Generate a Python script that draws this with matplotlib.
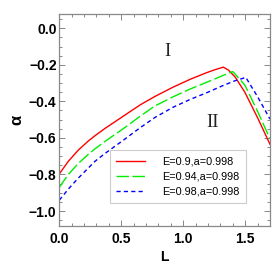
import numpy as np
import matplotlib.pyplot as plt
from matplotlib.ticker import MultipleLocator

TICK_SIZE = 10
LABEL_SIZE = 10
LEGEND_SIZE = 7.8
ROMAN_SIZE = 13.5

# ------------------------------------------------------------------------------------------------------------- #
# Data
# ------------------------------------------------------------------------------------------------------------- #
L_red = [0.0, 0.073, 0.153, 0.234, 0.288, 0.369, 0.53, 0.651, 0.772, 0.919, 1.054, 1.189, 1.26, 1.323,
         1.365, 1.42, 1.497, 1.6, 1.7]
alpha_red = [-0.797, -0.728, -0.667, -0.617, -0.588, -0.548, -0.475, -0.42, -0.373, -0.322, -0.28, -0.243,
             -0.226, -0.213, -0.229, -0.268, -0.35, -0.49, -0.635]

L_green = [0.0, 0.073, 0.153, 0.234, 0.288, 0.369, 0.53, 0.651, 0.772, 0.919, 1.054, 1.189, 1.323, 1.40,
           1.457, 1.497, 1.6, 1.7]
alpha_green = [-0.870, -0.800, -0.740, -0.690, -0.660, -0.619, -0.543, -0.482, -0.425, -0.375, -0.333, -0.296,
               -0.258, -0.237, -0.28, -0.311, -0.455, -0.605]

L_blue = [0.0, 0.073, 0.153, 0.234, 0.288, 0.369, 0.53, 0.651, 0.772, 0.919, 1.054, 1.189, 1.323, 1.415,
          1.505, 1.6, 1.7]
alpha_blue = [-0.941, -0.88, -0.82, -0.765, -0.728, -0.685, -0.606, -0.545, -0.488, -0.432, -0.39, -0.353,
              -0.313, -0.288, -0.269, -0.375, -0.497]

labels = ["E=0.9,a=0.998", "E=0.94,a=0.998", "E=0.98,a=0.998"]
x_ticks = [0.0, 0.5, 1.0, 1.5]
y_ticks = [0.0, -0.2, -0.4, -0.6, -0.8, -1.0]


# ------------------------------------------------------------------------------------------------------------- #
def plot_alpha_curves(fSavePath="out.png"):
    """
    Plots alpha over L for three energies, Mathematica frame style
    :param fSavePath: Path to save the plot
    """
    fig = plt.figure(figsize=(2.73, 2.73), dpi=100)
    ax = fig.add_axes([0.2172, 0.1722, 0.7718, 0.7766])
    frame_col = "#888888"
    for axis in ["top", "bottom", "left", "right"]:
        ax.spines[axis].set_linewidth(0.9)
        ax.spines[axis].set_color(frame_col)

    ax.plot(L_red, alpha_red, color="#ff0000", linewidth=1.0, label=labels[0])
    ax.plot(L_green, alpha_green, color="#00ee00", linewidth=1.0, linestyle=(0, (9, 2.5)), label=labels[1])
    ax.plot(L_blue, alpha_blue, color="#0000ff", linewidth=1.0, linestyle=(0, (3, 2.3)), label=labels[2])

    ax.set_xlim(0, 1.7)
    ax.set_ylim(-1.082, 0.078)
    ax.set_xticks(x_ticks)
    ax.set_yticks(y_ticks)
    ax.set_xticklabels(["%.1f" % v for v in x_ticks])
    ax.set_yticklabels([("%.1f" % v).replace("-", "\u2212") for v in y_ticks])
    ax.xaxis.set_minor_locator(MultipleLocator(0.1))
    ax.yaxis.set_minor_locator(MultipleLocator(0.05))
    ax.tick_params(which="both", direction="in", top=True, right=True, color=frame_col, width=0.7)
    ax.tick_params(which="major", length=4)
    ax.tick_params(which="minor", length=2)
    ax.tick_params(axis="x", pad=4)
    ax.tick_params(axis="y", pad=2)
    for lab in ax.get_xticklabels() + ax.get_yticklabels():
        lab.set_fontfamily("Liberation Sans")
        lab.set_fontweight("bold")
        lab.set_fontsize(TICK_SIZE)

    ax.set_xlabel("L", fontsize=LABEL_SIZE, fontweight="bold", family="Liberation Sans", labelpad=3)
    ax.set_ylabel("\u03b1", fontsize=12, fontweight="bold", family="Liberation Sans", labelpad=3)

    ax.text(0.869, -0.128, "I", fontsize=ROMAN_SIZE, family="Liberation Serif", color="#222222",
            ha="center", va="center")
    ax.text(1.24, -0.514, "II", fontsize=ROMAN_SIZE, family="Liberation Serif", color="#222222",
            ha="center", va="center")

    leg = ax.legend(loc="lower left", bbox_to_anchor=(0.24, 0.108), borderaxespad=0,
                    prop={"family": "Liberation Sans", "size": LEGEND_SIZE},
                    handlelength=2.6, handletextpad=1.6, labelspacing=0.45, borderpad=0.6,
                    fancybox=False, framealpha=1)
    leg.get_frame().set_edgecolor("#cccccc")
    leg.get_frame().set_linewidth(0.8)

    fig.savefig(fSavePath, dpi=100)


plot_alpha_curves()
